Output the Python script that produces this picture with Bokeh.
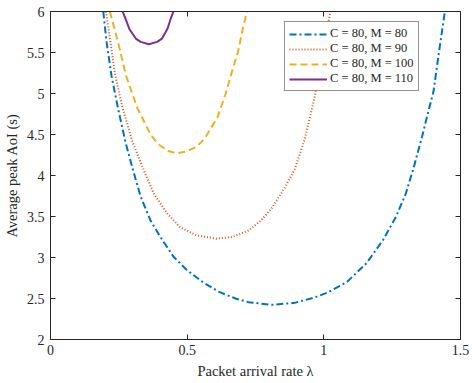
from bokeh.plotting import figure
from bokeh.models import Range1d, LinearAxis, FixedTicker, Legend, LegendItem
from bokeh.embed import file_html
from bokeh.resources import INLINE

# Data (arrival rate lambda vs average peak AoI)
x_m80 = [0.193, 0.205, 0.223, 0.247, 0.274, 0.305, 0.33, 0.366, 0.402, 0.45, 0.498, 0.557,
         0.617, 0.677, 0.725, 0.809, 0.893, 0.964, 1.012, 1.084, 1.156, 1.216, 1.263,
         1.30, 1.329, 1.359, 1.383, 1.401, 1.421, 1.443]
y_m80 = [6.0, 5.63, 5.22, 4.82, 4.41, 4.03, 3.74, 3.45, 3.25, 3.01, 2.85, 2.70,
         2.58, 2.50, 2.455, 2.423, 2.447, 2.51, 2.57, 2.70, 2.93, 3.21, 3.49,
         3.78, 4.10, 4.47, 4.79, 5.02, 5.5, 6.0]

x_m90 = [0.203, 0.219, 0.237, 0.264, 0.30, 0.348, 0.378, 0.426, 0.474, 0.534, 0.606, 0.665,
         0.725, 0.77, 0.809, 0.857, 0.893, 0.929, 0.964, 1.024]
y_m90 = [6.0, 5.63, 5.22, 4.82, 4.41, 4.01, 3.78, 3.54, 3.37, 3.27, 3.23, 3.25,
         3.33, 3.45, 3.60, 3.85, 4.07, 4.43, 4.92, 6.0]

x_m100 = [0.217, 0.247, 0.276, 0.318, 0.348, 0.366, 0.395, 0.43, 0.462, 0.495, 0.534, 0.564,
          0.611, 0.641, 0.665, 0.687, 0.705, 0.719]
y_m100 = [6.0, 5.63, 5.22, 4.82, 4.62, 4.50, 4.38, 4.30, 4.27, 4.29, 4.35, 4.45,
          4.71, 5.0, 5.28, 5.52, 5.81, 6.0]

x_m110 = [0.264, 0.274, 0.288, 0.312, 0.33, 0.36, 0.39, 0.408, 0.428, 0.44, 0.45]
y_m110 = [6.0, 5.915, 5.79, 5.67, 5.63, 5.60, 5.63, 5.67, 5.79, 5.915, 6.0]

labels = ["C = 80, M = 80", "C = 80, M = 90", "C = 80, M = 100", "C = 80, M = 110"]
x_ticks = [0, 0.5, 1, 1.5]
y_ticks = [2, 2.5, 3, 3.5, 4, 4.5, 5, 5.5, 6]

FONT = "Liberation Serif"
AX = "#262626"

p = figure(frame_width=410, frame_height=328, output_backend="svg", toolbar_location=None,
           x_range=Range1d(0, 1.5), y_range=Range1d(2, 6),
           min_border_left=46, min_border_right=12, min_border_top=11, min_border_bottom=42)
p.grid.visible = False
p.outline_line_color = AX
p.outline_line_width = 1

for ax in (p.xaxis[0], p.yaxis[0]):
    ax.major_tick_in = 5
    ax.major_tick_out = 0
    ax.minor_tick_in = 0
    ax.minor_tick_out = 0
    ax.axis_line_color = AX
    ax.major_tick_line_color = AX
    ax.major_label_text_font = FONT
    ax.major_label_text_font_size = "14px"
    ax.major_label_text_color = AX
    ax.axis_label_text_font = FONT
    ax.axis_label_text_font_size = "14.5px"
    ax.axis_label_text_font_style = "normal"
    ax.axis_label_text_color = AX

p.xaxis[0].ticker = FixedTicker(ticks=x_ticks)
p.yaxis[0].ticker = FixedTicker(ticks=y_ticks)
p.xaxis[0].major_label_overrides = {0: "0", 0.5: "0.5", 1: "1", 1.5: "1.5"}
p.xaxis[0].axis_label = "Packet arrival rate λ"
p.yaxis[0].axis_label = "Average peak AoI (s)"
p.xaxis[0].major_label_standoff = 5
p.xaxis[0].axis_label_standoff = 5
p.yaxis[0].major_label_standoff = 6
p.yaxis[0].axis_label_standoff = 4

top = LinearAxis(ticker=FixedTicker(ticks=x_ticks),
                 major_label_overrides={t: "" for t in x_ticks},
                 major_tick_in=5, major_tick_out=0, minor_tick_in=0, minor_tick_out=0,
                 axis_line_color=AX, major_tick_line_color=AX, major_label_standoff=0)
right = LinearAxis(ticker=FixedTicker(ticks=y_ticks),
                   major_label_overrides={t: "" for t in y_ticks},
                   major_tick_in=5, major_tick_out=0, minor_tick_in=0, minor_tick_out=0,
                   axis_line_color=AX, major_tick_line_color=AX, major_label_standoff=0)
p.add_layout(top, "above")
p.add_layout(right, "right")

r1 = p.line(x_m80, y_m80, line_color="#0072BD", line_width=2, line_dash="7 3 2 3")
r2 = p.line(x_m90, y_m90, line_color="#D95319", line_width=2, line_dash="1 2")
r3 = p.line(x_m100, y_m100, line_color="#EDB120", line_width=2, line_dash="7 4")
r4 = p.line(x_m110, y_m110, line_color="#7E2F8E", line_width=2)

legend = Legend(items=[LegendItem(label=labels[0], renderers=[r1]),
                       LegendItem(label=labels[1], renderers=[r2]),
                       LegendItem(label=labels[2], renderers=[r3]),
                       LegendItem(label=labels[3], renderers=[r4])],
                location=(234, 248))
legend.label_text_font = FONT
legend.label_text_font_size = "12.5px"
legend.label_text_color = AX
legend.label_standoff = 3
legend.glyph_width = 38
legend.glyph_height = 14
legend.label_height = 14
legend.spacing = 0
legend.padding = 4
legend.margin = 0
legend.border_line_color = AX
legend.border_line_width = 1
legend.background_fill_alpha = 1
p.add_layout(legend, "center")

open("out.html", "w").write(file_html(p, INLINE))
